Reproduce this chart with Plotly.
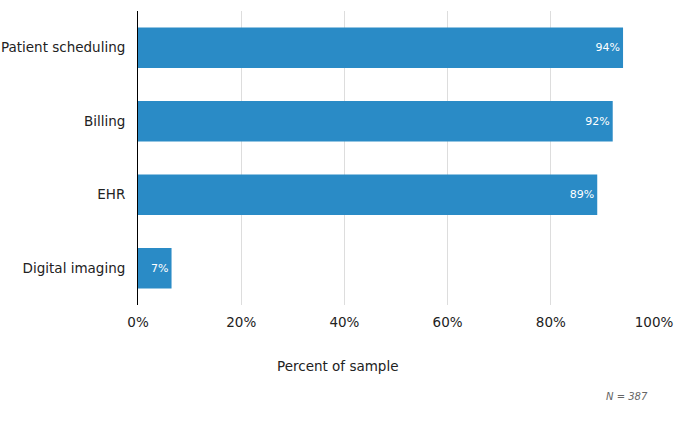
import plotly.graph_objects as go

categories = ["Patient scheduling", "Billing", "EHR", "Digital imaging"]
values = [94, 92, 89, 6.5]
labels = ["94%", "92%", "89%", "7%"]
tick_vals = [0, 20, 40, 60, 80, 100]
tick_text = ["0%", "20%", "40%", "60%", "80%", "100%"]

fig = go.Figure(go.Bar(
    y=categories, x=values, orientation="h",
    marker=dict(color="#2a8bc6", line=dict(width=0)),
    text=labels, textposition="inside", insidetextanchor="end",
    textfont=dict(color="white", size=11, family="DejaVu Sans"),
    width=0.55,
    cliponaxis=False,
))

fig.update_layout(
    width=675, height=421,
    margin=dict(l=138, r=21, t=11, b=116, autoexpand=False),
    plot_bgcolor="white", paper_bgcolor="white",
    font=dict(family="DejaVu Sans", size=13.5, color="#222"),
    showlegend=False,
    xaxis=dict(range=[0, 100], tickvals=tick_vals, ticktext=tick_text, automargin=False,
               showgrid=True, gridcolor="#dddddd", gridwidth=1, zeroline=False,
               tickfont=dict(size=13.5), ticks="", ticklen=0, ticklabelstandoff=7),
    yaxis=dict(autorange="reversed", showline=True, linecolor="black", linewidth=1,
               automargin=False,
               ticks="", tickfont=dict(size=13.5), ticklabelstandoff=9),
    annotations=[
        dict(text="Percent of sample", xref="paper", yref="paper",
             x=0.3866, y=-0.207, xanchor="center", yanchor="middle",
             showarrow=False, font=dict(size=13.5, color="#222")),
        dict(text="<i>N = 387</i>", xref="paper", yref="paper",
             x=0.993, y=-0.31, xanchor="right", yanchor="middle",
             showarrow=False, font=dict(size=10, color="#666")),
    ],
)

fig.write_html(
    "out.html",
    config={"displayModeBar": False},
    post_script="document.body.style.margin='0';document.body.style.overflow='hidden';",
)
